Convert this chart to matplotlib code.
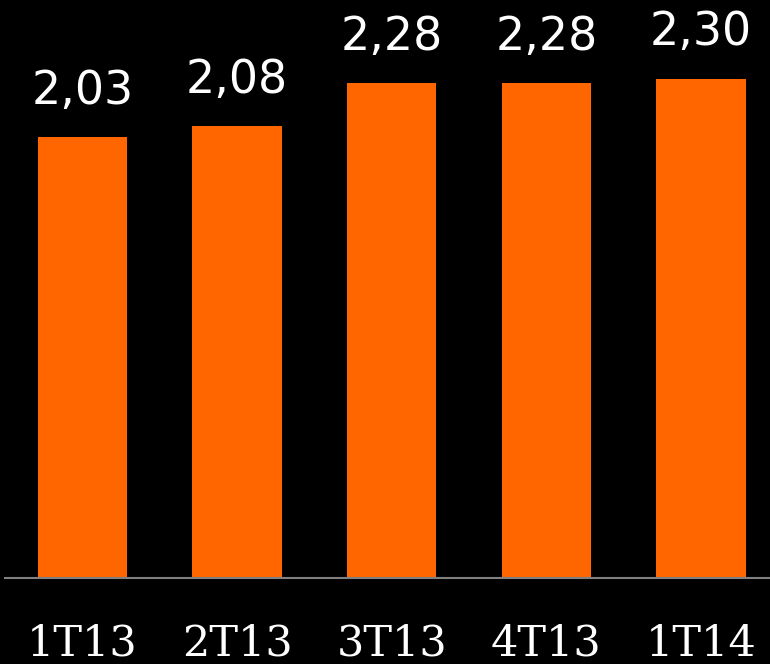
import matplotlib.pyplot as plt

# quarterly values
quarters = ['1T13', '2T13', '3T13', '4T13', '1T14']
values = [2.03, 2.08, 2.28, 2.28, 2.30]
value_labels = ['2,03', '2,08', '2,28', '2,28', '2,30']

BAR_COLOR = '#FF6600'

fig = plt.figure(figsize=(7.7, 6.64), dpi=100, facecolor='black')
ax = fig.add_axes([5 / 770, 86 / 664, 765 / 770, 578 / 664])
ax.set_facecolor('black')

x = range(len(quarters))
bars = ax.bar(x, values, width=0.576, color=BAR_COLOR, zorder=2)

ax.set_xlim(-0.5, 4.446)
ax.set_ylim(0, 2.662)

# value labels above each bar
for rect, lab in zip(bars, value_labels):
    ax.annotate(lab, (rect.get_x() + rect.get_width() / 2, rect.get_height()),
                xytext=(0, 24), textcoords='offset points',
                ha='center', va='baseline', color='white',
                fontsize=33, family='DejaVu Sans')

# category labels under the axis
for i, q in enumerate(quarters):
    ax.annotate(q, (i, 0), xytext=(0, -56), textcoords='offset points',
                ha='center', va='baseline', color='white',
                fontsize=31, family='DejaVu Serif', annotation_clip=False)

for side in ['top', 'right', 'left']:
    ax.spines[side].set_visible(False)
ax.spines['bottom'].set_color('#808080')
ax.spines['bottom'].set_linewidth(1.5)
ax.set_xticks([])
ax.set_yticks([])

fig.savefig('out.png', dpi=100, facecolor='black')
